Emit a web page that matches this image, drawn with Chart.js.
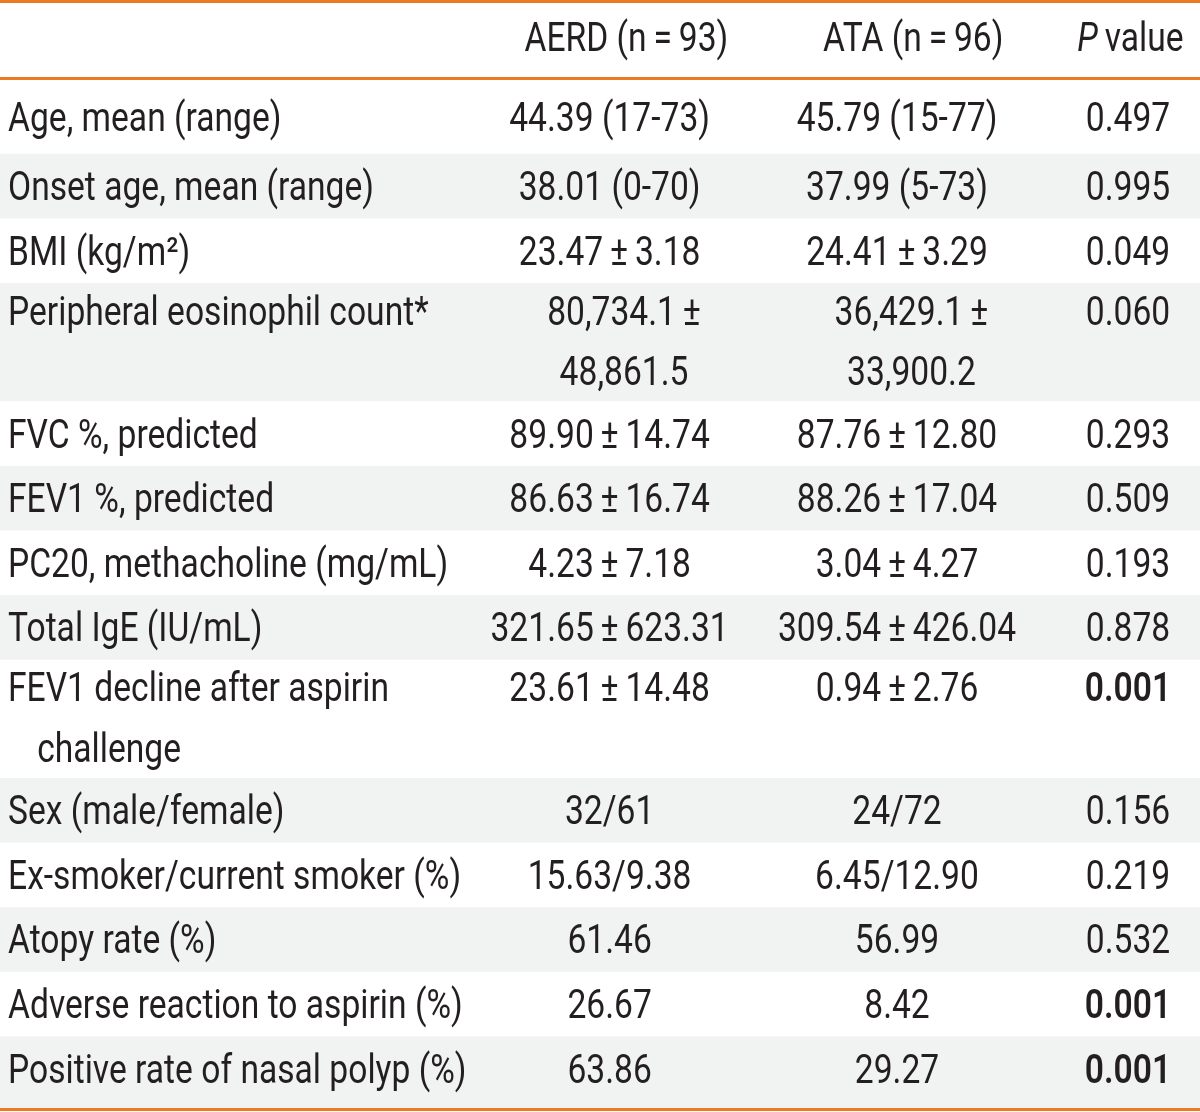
<!DOCTYPE html>
<html lang="en">
<head>
<meta charset="UTF-8" />
<meta name="viewport" content="width=device-width, initial-scale=1.0" />
<title>AERD vs ATA clinical characteristics</title>
<style>
  html, body { margin: 0; padding: 0; background: #fff; }
  canvas { display: block; }
</style>
<script src="https://cdn.jsdelivr.net/npm/chart.js"></script>
</head>
<body>
<canvas id="tableChart" width="1200" height="1112"></canvas>
<script>
// TABLE DATA
const headerLabels = ['', 'AERD (n\u2009=\u200993)', 'ATA (n\u2009=\u200996)', '\u2009value'];
const headerItalic = ['', '', '', 'P'];

const rowLabels = [
  ['Age, mean (range)'],
  ['Onset age, mean (range)'],
  ['BMI (kg/m\u00b2)'],
  ['Peripheral eosinophil count*'],
  ['FVC %, predicted'],
  ['FEV1 %, predicted'],
  ['PC20, methacholine (mg/mL)'],
  ['Total IgE (IU/mL)'],
  ['FEV1 decline after aspirin', 'challenge'],
  ['Sex (male/female)'],
  ['Ex-smoker/current smoker (%)'],
  ['Atopy rate (%)'],
  ['Adverse reaction to aspirin (%)'],
  ['Positive rate of nasal polyp (%)']
];
const aerdValues = [
  ['44.39 (17-73)'],
  ['38.01 (0-70)'],
  ['23.47\u2009\u00b1\u20093.18'],
  ['80,734.1\u2009\u00b1', '48,861.5'],
  ['89.90\u2009\u00b1\u200914.74'],
  ['86.63\u2009\u00b1\u200916.74'],
  ['4.23\u2009\u00b1\u20097.18'],
  ['321.65\u2009\u00b1\u2009623.31'],
  ['23.61\u2009\u00b1\u200914.48'],
  ['32/61'],
  ['15.63/9.38'],
  ['61.46'],
  ['26.67'],
  ['63.86']
];
const ataValues = [
  ['45.79 (15-77)'],
  ['37.99 (5-73)'],
  ['24.41\u2009\u00b1\u20093.29'],
  ['36,429.1\u2009\u00b1', '33,900.2'],
  ['87.76\u2009\u00b1\u200912.80'],
  ['88.26\u2009\u00b1\u200917.04'],
  ['3.04\u2009\u00b1\u20094.27'],
  ['309.54\u2009\u00b1\u2009426.04'],
  ['0.94\u2009\u00b1\u20092.76'],
  ['24/72'],
  ['6.45/12.90'],
  ['56.99'],
  ['8.42'],
  ['29.27']
];
const pValues = ['0.497', '0.995', '0.049', '0.060', '0.293', '0.509', '0.193',
                 '0.878', '0.001', '0.156', '0.219', '0.532', '0.001', '0.001'];
const pSignificant = [false, false, false, false, false, false, false,
                      false, true, false, false, false, true, true];

// LAYOUT (x in % of width, y in row units)
const COL_X = [0.67, 50.8, 74.75, 94.0];
const HEAD_X = [0.67, 52.2, 76.1, 94.2];
const WRAP_SHIFT = 1.2;     // wrapped value cells sit a little right
const INDENT_X = 3.1;
const HEADER_H = 1.22;
const LINE_GAP = 0.93;
const TWO_LINE_H = 1.83;
const FIRST_PAD = 0.16;
const LAST_PAD = 0.11;
const BOTTOM_MARGIN = 0.06;

const FONT_PX = 40;
const SX = 0.84;            // horizontal condensing of the font
const CAP_SHIFT = 14;       // baseline offset to centre cap height
const FAMILY = 'Roboto, "Liberation Sans", sans-serif';
const TEXT_COLOR = '#231f20';
const STRIPE = '#f1f2f2';
const ORANGE = '#ec7a23';

// row geometry in units
const lineCounts = rowLabels.map((l, r) => Math.max(l.length, aerdValues[r].length, ataValues[r].length));
const rowTops = [];
const rowHeights = [];
let cursor = HEADER_H;
lineCounts.forEach((n, i) => {
  let h = n > 1 ? TWO_LINE_H : 1;
  if (i === 0) h += FIRST_PAD;
  if (i === lineCounts.length - 1) h += LAST_PAD;
  rowTops.push(cursor);
  rowHeights.push(h);
  cursor += h;
});
const TOTAL_H = cursor + BOTTOM_MARGIN;

function lineCenter(r, k) {
  if (lineCounts[r] > 1) return rowTops[r] + 0.43 + k * LINE_GAP;
  return rowTops[r] + (r === 0 ? 0.09 : 0) + 0.5;
}

function cellPoints(values, col) {
  const pts = [];
  values.forEach((lines, r) => {
    lines.forEach((t, k) => {
      let x = COL_X[col];
      if (col === 0 && k > 0) x = INDENT_X;
      if ((col === 1 || col === 2) && lines.length > 1) x += WRAP_SHIFT;
      pts.push({ x, y: lineCenter(r, k), text: t, bold: col === 3 && pSignificant[r] });
    });
  });
  return pts;
}

const headerPoints = headerLabels.map((t, c) => ({ x: HEAD_X[c], y: HEADER_H / 2 - 0.03, text: t, italic: headerItalic[c] }));

function drawText(ctx, text, x, y, align, weight, style) {
  ctx.save();
  ctx.font = `${style || 'normal'} ${weight || 400} ${FONT_PX}px ${FAMILY}`;
  ctx.fillStyle = TEXT_COLOR;
  ctx.textAlign = align;
  ctx.textBaseline = 'alphabetic';
  ctx.translate(x, y);
  ctx.scale(SX, 1);
  ctx.fillText(text, 0, CAP_SHIFT);
  ctx.restore();
}

const tablePlugin = {
  id: 'tablePlugin',
  beforeDatasetsDraw(chart) {
    const { ctx, scales: { x, y } } = chart;
    const left = x.getPixelForValue(0), right = x.getPixelForValue(100);
    ctx.save();
    ctx.fillStyle = STRIPE;
    rowTops.forEach((top, r) => {
      if (r % 2 === 1) {
        const y0 = y.getPixelForValue(top), y1 = y.getPixelForValue(top + rowHeights[r]);
        ctx.fillRect(left, y0, right - left, y1 - y0);
      }
    });
    ctx.strokeStyle = ORANGE;
    ctx.lineWidth = 3;
    [0.023, HEADER_H - 0.006, TOTAL_H - BOTTOM_MARGIN + 0.02].forEach(v => {
      const py = y.getPixelForValue(v);
      ctx.beginPath();
      ctx.moveTo(left, py);
      ctx.lineTo(right, py);
      ctx.stroke();
    });
    ctx.restore();
  },
  afterDatasetsDraw(chart) {
    const { ctx } = chart;
    chart.data.datasets.forEach((ds, i) => {
      const meta = chart.getDatasetMeta(i);
      meta.data.forEach((el, j) => {
        const d = ds.data[j];
        if (!d.text && !d.italic) return;
        if (i === 0) {
          drawText(ctx, d.text, el.x, el.y, 'left');
        } else if (d.italic) {
          // italic prefix + regular remainder, centred together
          ctx.save();
          ctx.font = `italic 400 ${FONT_PX}px ${FAMILY}`;
          const w1 = ctx.measureText(d.italic).width * SX;
          ctx.font = `normal 400 ${FONT_PX}px ${FAMILY}`;
          const w2 = ctx.measureText(d.text).width * SX;
          ctx.restore();
          const start = el.x - (w1 + w2) / 2;
          drawText(ctx, d.italic, start, el.y, 'left', 400, 'italic');
          drawText(ctx, d.text, start + w1, el.y, 'left');
        } else {
          drawText(ctx, d.text, el.x, el.y, 'center', d.bold ? 600 : 400);
        }
      });
    });
  }
};

const datasets = [
  { label: 'labels', data: cellPoints(rowLabels, 0) },
  { label: 'header', data: headerPoints.slice(1) },
  { label: 'AERD', data: cellPoints(aerdValues, 1) },
  { label: 'ATA', data: cellPoints(ataValues, 2) },
  { label: 'P value', data: cellPoints(pValues.map(p => [p]), 3) }
].map(ds => Object.assign(ds, { pointRadius: 0, pointHoverRadius: 0, showLine: false }));

new Chart(document.getElementById('tableChart').getContext('2d'), {
  type: 'scatter',
  data: { datasets },
  options: {
    responsive: false,
    animation: false,
    events: [],
    layout: { padding: 0 },
    plugins: { legend: { display: false }, tooltip: { enabled: false } },
    scales: {
      x: { type: 'linear', min: 0, max: 100, display: false },
      y: { type: 'linear', min: 0, max: TOTAL_H, reverse: true, display: false }
    }
  },
  plugins: [tablePlugin]
});
</script>
</body>
</html>
